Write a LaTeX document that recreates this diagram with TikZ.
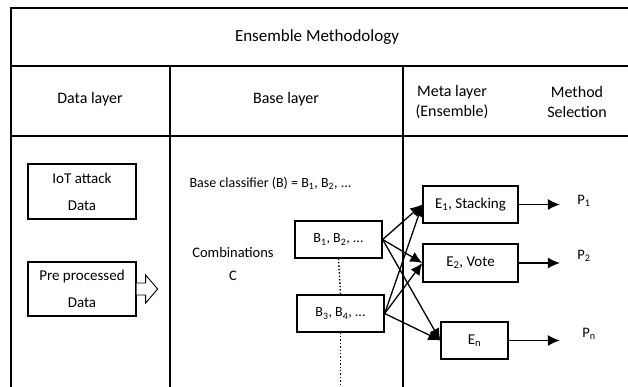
\documentclass[tikz,border=0pt]{standalone}
\usepackage{fontspec}
\setmainfont{Carlito}
\usetikzlibrary{arrows.meta}

\begin{document}
\begin{tikzpicture}[x=1pt,y=-1pt,
  rule/.style={line width=1.8pt},
  box/.style={draw,line width=1.3pt,inner sep=0pt,align=center,font=\fontsize{15}{27}\selectfont},
  head/.style={align=center,font=\fontsize{16}{20}\selectfont},
  txt/.style={align=center,font=\fontsize{14.5}{23}\selectfont},
  link/.style={line width=1.3pt,-{Latex[length=12pt,width=11pt]}}]
\useasboundingbox (0,0) rectangle (628,386);
\clip (0,0) rectangle (628,386);
\draw[rule] (11,400) -- (11,8) -- (640,8);
\draw[rule] (11,66) -- (640,66);
\draw[rule] (11,136) -- (640,136);
\draw[rule] (170,66) -- (170,400);
\draw[rule] (403,66) -- (403,400);
\node[head,font=\fontsize{17}{20}\selectfont] (title) at (317,37) {Ensemble Methodology};
\node[head] (hdata) at (90,99) {Data layer};
\node[head] (hbase) at (286,99) {Base layer};
\node[head] (hmeta) at (452,102) {Meta layer\\(Ensemble)};
\node[head] (hsel) at (577,102) {Method\\Selection};
\node[box,minimum width=108pt,minimum height=55pt] (iot) at (82,191.5) {IoT attack\\Data};
\node[box,minimum width=108pt,minimum height=54pt] (pre) at (82,289) {Pre processed\\Data};
\draw[line width=0.9pt,fill=white] (pre.east) ++(0,-6) -- ++(9,0) -- ++(0,-8) -- ++(12,14)
  -- ++(-12,14) -- ++(0,-8) -- ++(-9,0);
\node[txt,anchor=west,font=\fontsize{14}{17}\selectfont] (bc) at (186,183)
  {Base classifier (B) = B\textsubscript{1}, B\textsubscript{2}, ...};
\node[txt] (comb) at (233,264) {Combinations\\C};
\node[box,minimum width=87pt,minimum height=37pt,font=\fontsize{14}{17}\selectfont] (b1) at (338.5,239.5)
  {B\textsubscript{1}, B\textsubscript{2}, ...};
\node[box,minimum width=87pt,minimum height=37pt,font=\fontsize{14}{17}\selectfont] (b2) at (340.5,313.5)
  {B\textsubscript{3}, B\textsubscript{4}, ...};
\coordinate (bend) at (340.5,395);
\draw[dotted,line width=1.4pt] (b1.south) -- (b2.north);
\draw[dotted,line width=1.4pt] (b2.south) -- (bend);
\node[box,minimum width=95pt,minimum height=37pt] (e1) at (470.5,204.5) {E\textsubscript{1}, Stacking};
\node[box,minimum width=95pt,minimum height=38pt] (e2) at (470.5,263) {E\textsubscript{2}, Vote};
\node[box,minimum width=67pt,minimum height=37pt] (en) at (474.5,340.5) {E\textsubscript{n}};
\foreach \b in {b1,b2}
  \foreach \e in {e1,e2,en}
    \draw[link] (\b.east) -- (\e.west);
\node[txt] (p1) at (584,201) {P\textsubscript{1}};
\node[txt] (p2) at (584,256) {P\textsubscript{2}};
\node[txt] (pn) at (589,334) {P\textsubscript{n}};
\draw[link,shorten >=14pt] (e1.east) -- (e1.east -| p1.west);
\draw[link,shorten >=14pt] (e2.east) -- (e2.east -| p2.west);
\draw[link,shorten >=19pt] (en.east) -- (en.east -| pn.west);
\end{tikzpicture}
\end{document}
